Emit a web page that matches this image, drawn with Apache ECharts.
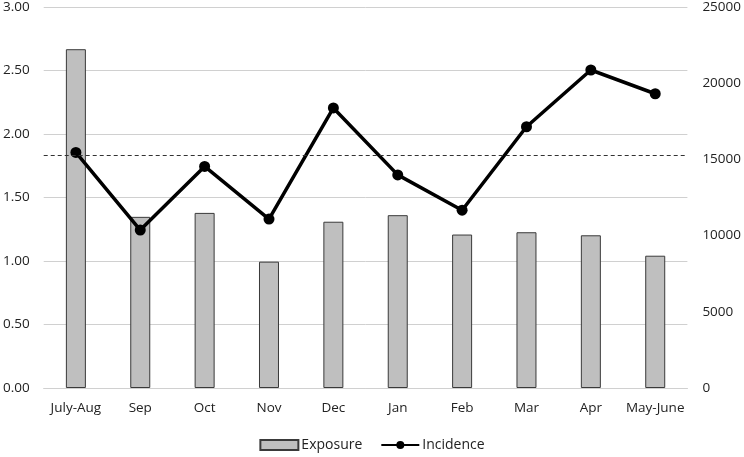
<!DOCTYPE html>
<html><head><meta charset="utf-8">
<script src="https://cdn.jsdelivr.net/npm/echarts@6/dist/echarts.min.js"></script>
<style>html,body{margin:0;padding:0;background:#fff}#c{width:744px;height:457px}</style>
</head><body><div id="c"></div>
<script>
const categories = ['July-Aug','Sep','Oct','Nov','Dec','Jan','Feb','Mar','Apr','May-June'];
const exposure = [22230, 11230, 11490, 8290, 10910, 11340, 10070, 10220, 10020, 8680];
const incidence = [1.855, 1.244, 1.745, 1.330, 2.205, 1.678, 1.400, 2.057, 2.504, 2.317];
const leftTicks = {min: 0, max: 3, interval: 0.5};
const rightTicks = {min: 0, max: 25000, interval: 5000};

const font = 'Open Sans';
const chart = echarts.init(document.getElementById('c'));
chart.setOption({
  animation: false,
  textStyle: {fontFamily: font},
  grid: {left: 43, right: 55, top: 3, bottom: 69},
  legend: {
    bottom: 0, left: 'center', itemGap: 18, itemWidth: 38, itemHeight: 10,
    textStyle: {fontFamily: font, fontSize: 14, color: '#222', padding: [0, 0, 0, -2]},
    data: [{name: 'Exposure', icon: 'rect'}, {name: 'Incidence'}]
  },
  xAxis: {
    type: 'category', data: categories, boundaryGap: true,
    axisLine: {lineStyle: {color: '#d0d0d0', width: 1}},
    axisTick: {show: false},
    axisLabel: {color: '#222', fontSize: 13.5, margin: 13, interval: 0}
  },
  yAxis: [
    {type: 'value', position: 'left', min: leftTicks.min, max: leftTicks.max, interval: leftTicks.interval,
     axisLine: {show: false}, axisTick: {show: false},
     splitLine: {lineStyle: {color: '#d0d0d0', width: 1}},
     axisLabel: {color: '#222', fontSize: 13.5, margin: 14, formatter: v => v.toFixed(2)}},
    {type: 'value', position: 'right', min: rightTicks.min, max: rightTicks.max, interval: rightTicks.interval,
     axisLine: {show: false}, axisTick: {show: false}, splitLine: {show: false},
     axisLabel: {color: '#222', fontSize: 13.5, margin: 15, formatter: v => String(v)}}
  ],
  series: [
    {name: 'Exposure', type: 'bar', yAxisIndex: 1, data: exposure, barWidth: 20,
     itemStyle: {color: '#bfbfbf', borderColor: '#3a3a3a', borderWidth: 1}},
    {name: 'Incidence', type: 'line', yAxisIndex: 0, data: incidence,
     symbol: 'circle', symbolSize: 11,
     lineStyle: {color: '#000', width: 3.5}, itemStyle: {color: '#000'},
     markLine: {silent: true, symbol: 'none', label: {show: false},
       lineStyle: {color: '#333', type: [4, 3], width: 1},
       data: [{type: 'average'}]}}
  ]
});
</script></body></html>
